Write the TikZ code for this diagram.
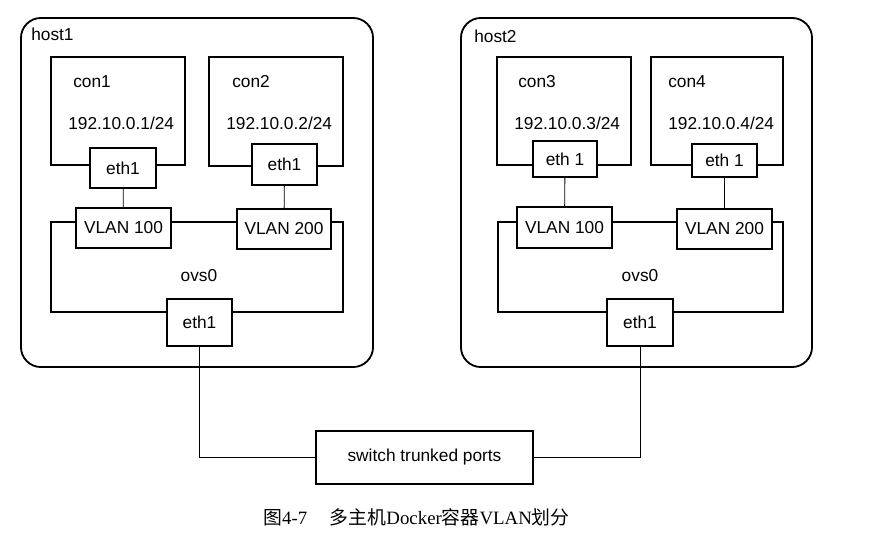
\documentclass[tikz,border=0pt]{standalone}
\usepackage{fontspec}
\setmainfont{Liberation Sans}
\newfontfamily\cjk{Noto Sans CJK SC}
\newfontfamily\capfont{Liberation Serif}
\usetikzlibrary{positioning}
\tikzset{
  host/.style={draw,line width=1.3pt,rounded corners=0.5cm,inner sep=0pt,minimum height=8.725cm},
  frame/.style={draw,line width=.9pt,inner sep=0pt},
  port/.style={draw,fill=white,line width=.9pt,inner sep=0pt},
  wire/.style={line width=.6pt},
  txt/.style={inner sep=0pt,anchor=west},
}

\begin{document}
\begin{tikzpicture}[x=0.025cm,y=-0.025cm,font=\fontsize{12.3}{14}\selectfont]
\useasboundingbox (0,0) rectangle (869,541);
% host1
\node[host,minimum width=8.8cm] (host1) at (197,192.5) {};
\node[txt] (h1lbl) at (31,34) {host1};
\node[frame,minimum width=3.35cm,minimum height=2.7cm] (con1) at (118,111) {};
\node[frame,minimum width=3.35cm,minimum height=2.725cm] (con2) at (276,111.5) {};
\node[txt] (c1lbl) at (73,82) {con1};
\node[txt] (c1ip) at (68,123) {192.10.0.1/24};
\node[txt] (c2lbl) at (232,82) {con2};
\node[txt] (c2ip) at (226,123) {192.10.0.2/24};
\node[port,minimum width=1.65cm,minimum height=1cm] (c1eth) at (123,168) {eth1};
\node[port,minimum width=1.625cm,minimum height=1.025cm] (c2eth) at (284.5,164.5) {eth1};
\node[frame,minimum width=7.3cm,minimum height=2.25cm] (ovs1) at (197,267) {};
\node[inner sep=0pt] (o1lbl) at (199,276) {ovs0};
\node[port,minimum width=2.375cm,minimum height=1cm] (v1a) at (123.5,228) {VLAN 100};
\node[port,minimum width=2.35cm,minimum height=1cm] (v1b) at (284,229) {VLAN 200};
\node[port,minimum width=1.625cm,minimum height=1.175cm] (oe1) at (199.5,322.5) {eth1};
\draw[wire] (c1eth) -- (v1a);
\draw[wire] (c2eth) -- (v1b);
% host2
\node[host,minimum width=8.775cm] (host2) at (636.5,192.5) {};
\node[txt] (h2lbl) at (474,36) {host2};
\node[frame,minimum width=3.35cm,minimum height=2.7cm] (con3) at (564,111) {};
\node[frame,minimum width=3.3cm,minimum height=2.7cm] (con4) at (717,111) {};
\node[txt] (c3lbl) at (518,82) {con3};
\node[txt] (c3ip) at (514,123) {192.10.0.3/24};
\node[txt] (c4lbl) at (668,82) {con4};
\node[txt] (c4ip) at (668,123) {192.10.0.4/24};
\node[port,minimum width=1.6cm,minimum height=0.9cm] (c3eth) at (565,159) {eth 1};
\node[port,minimum width=1.625cm,minimum height=0.825cm] (c4eth) at (724.5,160.5) {eth 1};
\node[frame,minimum width=7.125cm,minimum height=2.25cm] (ovs2) at (640.5,267) {};
\node[inner sep=0pt] (o2lbl) at (640,276) {ovs0};
\node[port,minimum width=2.375cm,minimum height=1.025cm] (v2a) at (564.5,227.5) {VLAN 100};
\node[port,minimum width=2.375cm,minimum height=1cm] (v2b) at (724.5,229) {VLAN 200};
\node[port,minimum width=1.65cm,minimum height=1.175cm] (oe2) at (640,322.5) {eth1};
\draw[wire] (c3eth) -- (v2a);
\draw[wire] (c4eth) -- (v2b);
% trunk
\node[port,minimum width=5.425cm,minimum height=1.325cm] (sw) at (424.5,457.5) {switch trunked ports};
\draw[wire] (oe1.south) |- (sw.west);
\draw[wire] (oe2.south) |- (sw.east);
\node[inner sep=0pt,font=\fontsize{13.4}{16}\selectfont] (cap) at (416.5,517)
  {\cjk 图\capfont 4-7\hspace{1.2em}\cjk 多主机\capfont Docker\cjk 容器\capfont VLAN\cjk 划分};
\end{tikzpicture}
\end{document}
